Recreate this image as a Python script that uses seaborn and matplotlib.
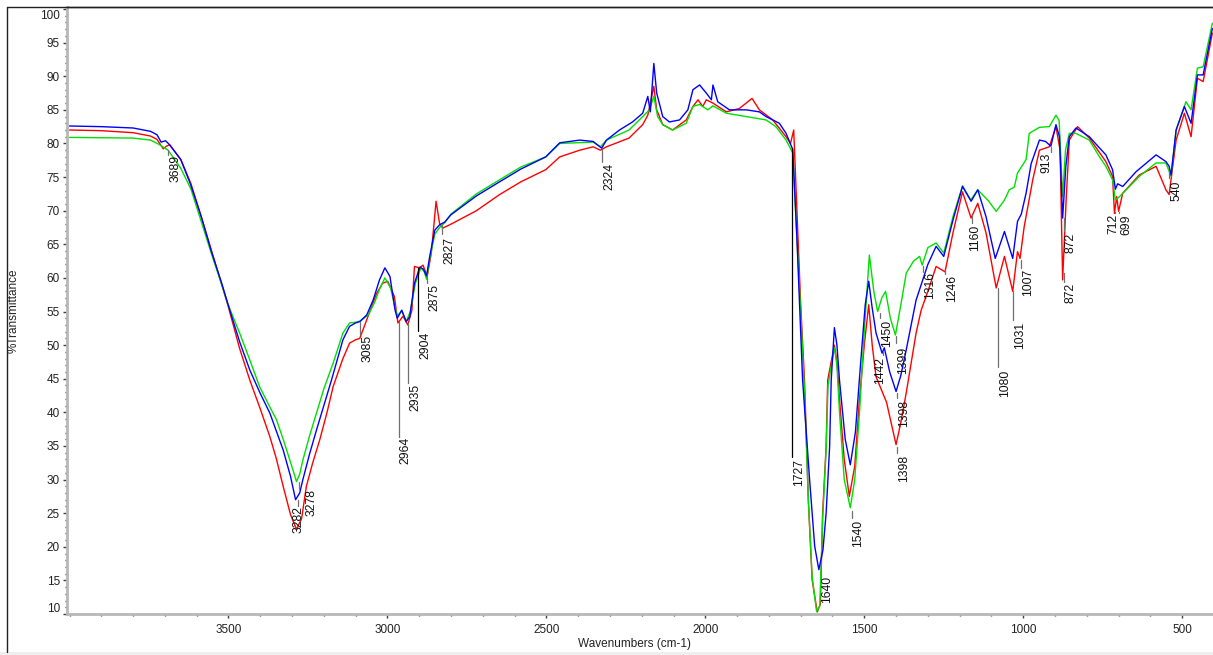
import numpy as np
import pandas as pd
import matplotlib
matplotlib.use('Agg')
import matplotlib.pyplot as plt
import seaborn as sns
from matplotlib.lines import Line2D
from matplotlib.patches import Rectangle
from matplotlib.transforms import ScaledTranslation

# FTIR spectra (wavenumber in cm-1, %T)
blue_wn = [4000, 3900, 3800, 3745, 3725, 3712, 3698, 3685, 3650, 3620, 3585, 3553, 3520, 3496, 3465,
           3433, 3400, 3370, 3350, 3328, 3305, 3289, 3276, 3266, 3245, 3223, 3200, 3176, 3140, 3119,
           3100, 3087, 3065, 3045, 3025, 3008, 2992, 2976, 2969, 2955, 2941, 2930, 2915, 2898, 2887,
           2877, 2867, 2851, 2836, 2820, 2800, 2720, 2647, 2580, 2502, 2458, 2395, 2353, 2326, 2311,
           2270, 2229, 2197, 2181, 2173, 2162, 2153, 2134, 2113, 2081, 2055, 2039, 2018, 1997, 1981,
           1976, 1961, 1924, 1871, 1830, 1809, 1767, 1746, 1725, 1712, 1694, 1672, 1656, 1643, 1630,
           1620, 1609, 1604, 1594, 1586, 1578, 1560, 1544, 1528, 1512, 1497, 1486, 1475, 1463, 1444,
           1437, 1420, 1400, 1385, 1368, 1337, 1316, 1300, 1274, 1250, 1221, 1191, 1164, 1143, 1117,
           1088, 1059, 1033, 1018, 1006, 991, 975, 949, 930, 913, 897, 886, 876, 866, 855,
           834, 792, 740, 719, 710, 703, 687, 645, 582, 551, 541, 535, 519, 493, 472,
           452, 434, 405]
blue_t = [82.6, 82.5, 82.3, 81.8, 81.3, 80.2, 80.4, 79.8, 77.6, 74.0, 69.0, 63.8, 59.0, 55.2, 50.5,
          46.3, 42.8, 39.9, 37.3, 34.4, 30.5, 27.0, 28.0, 30.0, 33.8, 37.4, 41.0, 44.8, 50.8, 52.8,
          53.3, 53.5, 54.5, 56.7, 59.7, 61.5, 60.2, 55.2, 54.0, 55.2, 53.5, 54.2, 59.2, 61.6, 61.3,
          60.3, 63.2, 67.1, 67.9, 68.3, 69.4, 72.2, 74.3, 76.2, 78.0, 80.1, 80.5, 80.3, 79.3, 80.5,
          82.0, 83.2, 84.5, 87.0, 84.7, 91.9, 87.5, 84.0, 83.2, 83.5, 85.0, 88.0, 88.7, 87.5, 86.5,
          88.7, 86.2, 85.0, 85.0, 84.7, 84.0, 83.0, 81.5, 79.1, 66.0, 44.8, 30.0, 20.1, 16.6, 19.5,
          25.0, 34.9, 44.8, 52.6, 50.0, 44.8, 36.0, 32.2, 37.0, 47.0, 56.0, 59.5, 55.5, 51.8, 48.8,
          49.6, 46.0, 43.1, 45.5, 49.3, 56.7, 59.7, 62.0, 64.7, 63.2, 68.6, 73.6, 71.4, 73.1, 69.1,
          62.9, 66.9, 62.9, 68.4, 69.5, 72.6, 77.0, 80.5, 80.3, 79.6, 82.8, 81.0, 68.9, 76.6, 81.0,
          82.3, 81.0, 78.3, 76.1, 73.2, 74.0, 73.6, 75.8, 78.3, 77.3, 76.6, 75.3, 82.0, 85.5, 83.0,
          90.2, 90.2, 97.1]

green_wn = [4000, 3800, 3745, 3720, 3690, 3650, 3618, 3585, 3553, 3520, 3501, 3465, 3433, 3402, 3370,
            3349, 3328, 3307, 3286, 3276, 3266, 3245, 3223, 3200, 3171, 3140, 3119, 3100, 3085, 3060,
            3040, 3025, 3008, 2990, 2978, 2969, 2955, 2941, 2928, 2912, 2895, 2885, 2877, 2867, 2851,
            2836, 2820, 2800, 2720, 2647, 2580, 2502, 2458, 2353, 2330, 2311, 2240, 2197, 2176, 2162,
            2150, 2134, 2103, 2060, 2039, 2018, 1992, 1976, 1934, 1871, 1809, 1778, 1746, 1725, 1712,
            1700, 1688, 1676, 1664, 1650, 1640, 1631, 1620, 1614, 1594, 1586, 1578, 1563, 1544, 1530,
            1515, 1500, 1484, 1470, 1458, 1445, 1433, 1418, 1402, 1385, 1368, 1345, 1326, 1318, 1300,
            1274, 1250, 1221, 1191, 1165, 1143, 1110, 1085, 1060, 1044, 1028, 1018, 991, 981, 949,
            918, 897, 887, 876, 867, 855, 834, 792, 760, 740, 719, 710, 697, 676, 635,
            582, 551, 535, 519, 488, 472, 452, 434, 405]
green_t = [80.9, 80.8, 80.5, 79.9, 79.0, 76.3, 73.2, 68.3, 63.5, 58.8, 56.0, 51.8, 47.8, 43.8, 40.8,
           38.9, 36.0, 32.9, 29.7, 30.8, 32.9, 36.5, 39.9, 43.5, 47.3, 51.8, 53.3, 53.4, 53.6, 54.5,
           56.4, 58.3, 60.0, 58.5, 56.0, 54.3, 55.1, 53.5, 55.0, 59.2, 61.5, 61.0, 59.8, 62.8, 66.5,
           67.5, 68.2, 69.5, 72.5, 74.6, 76.5, 78.0, 80.0, 80.2, 79.5, 80.5, 82.0, 84.0, 85.0, 87.0,
           84.0, 82.8, 82.0, 83.0, 85.5, 85.8, 85.0, 85.6, 84.5, 84.0, 83.5, 82.5, 80.5, 78.6, 66.0,
           55.0, 43.0, 27.0, 15.5, 10.4, 11.2, 24.0, 34.5, 44.0, 49.6, 47.0, 40.0, 30.0, 25.8, 30.0,
           40.0, 52.0, 63.4, 58.0, 55.0, 57.0, 58.0, 54.0, 51.5, 56.0, 60.7, 62.5, 63.2, 61.9, 64.5,
           65.2, 63.7, 69.1, 73.7, 71.6, 73.1, 71.5, 69.9, 71.5, 73.1, 73.5, 75.6, 77.6, 81.5, 82.4,
           82.5, 84.2, 83.4, 72.1, 79.0, 81.5, 81.5, 80.5, 78.0, 76.6, 74.6, 71.6, 72.1, 73.1, 75.1,
           77.1, 77.1, 75.1, 82.0, 86.2, 85.0, 91.2, 91.4, 97.9]

red_wn = [4000, 3900, 3800, 3745, 3725, 3705, 3695, 3685, 3650, 3618, 3585, 3553, 3520, 3501, 3465,
          3433, 3400, 3370, 3350, 3328, 3305, 3286, 3270, 3255, 3235, 3213, 3190, 3171, 3140, 3119,
          3100, 3087, 3065, 3034, 3015, 2999, 2978, 2967, 2951, 2936, 2923, 2915, 2899, 2888, 2875,
          2862, 2847, 2836, 2826, 2800, 2720, 2647, 2580, 2502, 2458, 2395, 2353, 2330, 2311, 2240,
          2197, 2181, 2162, 2153, 2134, 2103, 2060, 2039, 2023, 2008, 1997, 1976, 1934, 1893, 1853,
          1830, 1788, 1746, 1732, 1722, 1712, 1700, 1688, 1676, 1664, 1648, 1638, 1631, 1620, 1615,
          1594, 1586, 1578, 1563, 1547, 1530, 1515, 1500, 1486, 1475, 1463, 1442, 1430, 1400, 1385,
          1368, 1337, 1321, 1300, 1274, 1246, 1221, 1191, 1164, 1143, 1117, 1085, 1059, 1033, 1018,
          1010, 997, 970, 949, 918, 897, 884, 876, 865, 855, 829, 792, 740, 719, 713,
          706, 700, 687, 635, 582, 551, 541, 519, 493, 472, 452, 434, 405]
red_t = [82.0, 81.9, 81.6, 81.1, 80.6, 79.2, 79.6, 79.8, 77.6, 74.0, 69.0, 64.0, 58.8, 55.8, 49.5,
         44.8, 40.5, 36.4, 33.2, 29.0, 24.8, 22.6, 24.2, 29.0, 32.5, 35.9, 40.0, 43.8, 48.0, 50.3,
         50.8, 51.0, 53.8, 57.7, 59.2, 59.5, 57.2, 53.3, 54.3, 53.0, 55.2, 61.7, 61.5, 61.9, 60.2,
         63.7, 71.4, 68.1, 67.4, 68.0, 70.0, 72.4, 74.3, 76.1, 78.0, 79.0, 79.5, 79.0, 79.5, 80.8,
         82.8, 84.2, 88.5, 85.0, 82.8, 82.0, 83.5, 85.5, 86.5, 85.5, 86.5, 86.0, 84.7, 85.2, 86.7,
         85.0, 83.5, 81.0, 80.0, 82.0, 70.0, 56.0, 44.8, 27.0, 15.1, 10.3, 11.5, 25.0, 34.9, 44.8,
         50.0, 47.5, 42.0, 33.0, 27.5, 32.0, 42.0, 50.0, 56.0, 50.0, 45.3, 42.9, 41.5, 35.2, 38.5,
         42.9, 51.8, 55.2, 58.0, 61.7, 60.9, 66.7, 72.8, 68.9, 71.1, 66.7, 58.5, 63.2, 58.0, 63.9,
         62.9, 67.6, 74.6, 79.0, 79.5, 82.5, 79.0, 59.7, 71.6, 80.5, 82.5, 80.8, 77.3, 75.1, 69.6,
         72.1, 69.9, 72.6, 75.3, 76.6, 73.1, 72.4, 80.5, 84.5, 81.0, 89.7, 89.2, 96.4]

# peak labels: text, wavenumber, line top %T, line bottom %T, text top %T
peak_labels = [
    ('3689', 3689, 79.1, 78.3, 78.3), ('3278', 3278, 29.7, 28.6, 28.6), ('3282', 3282, 26.9, 26.0, 26.0),
    ('3085', 3085, 53.4, 51.7, 51.5), ('2964', 2964, 53.5, 36.4, 36.3), ('2935', 2935, 53.3, 44.4, 44.3),
    ('2904', 2904, 61.5, 52.1, 52.0), ('2875', 2875, 60.2, 59.3, 59.1), ('2827', 2827, 67.8, 66.5, 66.1),
    ('2324', 2324, 79.0, 77.3, 77.1), ('1727', 1727, 79.3, 33.4, 33.0), ('1640', 1640, 15.6, 15.6, 15.6),
    ('1540', 1540, 25.3, 24.3, 24.0), ('1450', 1450, 54.8, 54.1, 53.8), ('1442', 1442, 49.0, 48.5, 48.3),
    ('1399', 1399, 51.3, 50.3, 49.8), ('1398', 1398, 42.9, 42.2, 41.9), ('1398', 1398, 34.9, 33.9, 33.7),
    ('1316', 1316, 61.7, 60.9, 60.9), ('1246', 1246, 61.2, 60.6, 60.5), ('1160', 1160, 69.4, 68.2, 67.9),
    ('1080', 1080, 58.5, 46.8, 46.3), ('1031', 1031, 58.0, 53.8, 53.5), ('1007', 1007, 62.7, 61.5, 61.4),
    ('913', 913, 79.5, 78.8, 78.6), ('872', 872, 68.9, 67.0, 66.7), ('872', 872, 60.7, 59.4, 59.3),
    ('712', 712, 69.8, 69.7, 69.6), ('699', 699, 69.8, 69.7, 69.4), ('540', 540, 75.7, 74.9, 74.5),
]
# sideways nudge of a label from its line, in pixels
text_shift = {'913': -5, '1442': -3, '1160': 3, '712': -1, '699': 7, '3282': 1, '3278': 12}
dark_lines = ['1727', '2904']

df = pd.concat([
    pd.DataFrame({'wavenumber': red_wn, 'transmittance': red_t, 'sample': 'red'}),
    pd.DataFrame({'wavenumber': green_wn, 'transmittance': green_t, 'sample': 'green'}),
    pd.DataFrame({'wavenumber': blue_wn, 'transmittance': blue_t, 'sample': 'blue'}),
])

sns.set_style('ticks')
plt.rcParams['font.family'] = ['Liberation Sans', 'DejaVu Sans']

W, H = 1213, 655
fig = plt.figure(figsize=(W / 100, H / 100), dpi=100)
ax = fig.add_axes([67 / W, 1 - 614 / H, 1 - 67 / W, (614 - 7) / H])

sns.lineplot(data=df, x='wavenumber', y='transmittance', hue='sample',
             hue_order=['red', 'green', 'blue'],
             palette={'red': '#ff0000', 'green': '#00e000', 'blue': '#0000ff'},
             estimator=None, sort=False, linewidth=1, legend=False, ax=ax)

ax.set_xlim(4008, 403)
ax.set_ylim(10, 100.3)
ax.set_xticks(np.arange(3500, 400, -500))
ax.set_xticks(np.arange(4000, 400, -100), minor=True)
ax.set_yticks(np.arange(10, 101, 5))
ax.set_yticks(np.arange(10, 101, 1), minor=True)
ax.tick_params(axis='both', which='major', length=3, width=1, color='#404040',
               labelsize=8.5, labelcolor='#222222')
ax.tick_params(axis='both', which='minor', length=1.5, width=1, color='#404040')
ax.tick_params(axis='y', which='major', pad=2)
ax.tick_params(axis='x', which='major', pad=4.5)

for side in ['left', 'bottom']:
    ax.spines[side].set_color('#b8b8b8')
    ax.spines[side].set_linewidth(2)
ax.spines['top'].set_color('#202020')
ax.spines['top'].set_linewidth(1)
ax.spines['right'].set_visible(False)

# the end labels sit inside the axis range, as in the reference
ylabels = ax.get_yticklabels()
ylabels[0].set_transform(ylabels[0].get_transform() + ScaledTranslation(0, 0.07, fig.dpi_scale_trans))
ylabels[-1].set_transform(ylabels[-1].get_transform() + ScaledTranslation(0, -0.056, fig.dpi_scale_trans))

ax.set_xlabel('Wavenumbers (cm-1)', fontsize=8.5, color='#222222')
ax.set_ylabel('%Transmittance', fontsize=8.5, color='#222222')
ax.xaxis.set_label_coords(0.495, -0.0395)
ax.yaxis.set_label_coords(-0.041, 0.5)

for text, wn, top, bottom, ttop in peak_labels:
    lc = 'black' if text in dark_lines else '#707070'
    if top > bottom:
        ax.plot([wn, wn], [top, bottom], color=lc, lw=0.9)
    ax.annotate(text, xy=(wn, ttop), xytext=(text_shift.get(text, 7), 0),
                textcoords='offset pixels', rotation=90, ha='center', va='top',
                fontsize=8.7, color='#111111')

# window frame around the plot
fig.add_artist(Line2D([7 / W, 7 / W], [1 - 652 / H, 1 - 7 / H], transform=fig.transFigure,
                      color='#202020', lw=1))
fig.add_artist(Line2D([7 / W, 1], [1 - 7 / H, 1 - 7 / H], transform=fig.transFigure,
                      color='#202020', lw=1))
fig.add_artist(Rectangle((0, 0), 1, 3 / H, transform=fig.transFigure,
                         facecolor='#efefef', edgecolor='none'))

fig.savefig('out.png', dpi=100)
